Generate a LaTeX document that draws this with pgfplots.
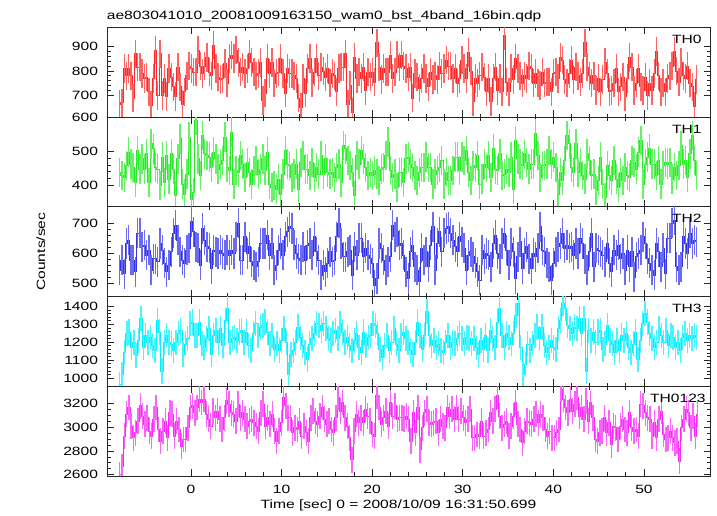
\documentclass[border=0pt]{standalone}
\usepackage{pgfplots}
\usepackage{pgfplotstable}
\pgfplotsset{compat=1.18}
\usepackage{fontspec}
\setmainfont{Liberation Sans}[FakeStretch=1.3]

\definecolor{cR}{RGB}{255,40,40}
\definecolor{cG}{RGB}{40,235,40}
\definecolor{cB}{RGB}{50,50,235}
\definecolor{cC}{RGB}{0,240,255}
\definecolor{cM}{RGB}{250,40,250}

\pgfplotstableread[row sep=\\]{y\\
665\\670\\810\\780\\810\\780\\690\\870\\815\\815\\
790\\770\\775\\715\\660\\770\\885\\700\\870\\700\\
770\\695\\810\\775\\735\\695\\815\\735\\665\\715\\
780\\820\\810\\795\\795\\885\\820\\790\\820\\855\\
795\\780\\905\\810\\775\\765\\770\\830\\750\\850\\
865\\850\\885\\835\\795\\815\\790\\810\\870\\835\\
795\\780\\790\\835\\680\\710\\850\\790\\835\\750\\
790\\795\\850\\790\\710\\810\\790\\790\\780\\770\\
690\\650\\770\\710\\810\\850\\750\\795\\850\\780\\
815\\800\\775\\810\\750\\790\\780\\715\\810\\815\\
815\\870\\665\\740\\630\\855\\770\\795\\770\\815\\
720\\795\\775\\795\\755\\915\\815\\765\\810\\795\\
795\\865\\770\\795\\865\\815\\865\\820\\810\\775\\
815\\690\\790\\
775\\730\\770\\810\\770\\735\\795\\765\\780\\765\\
820\\790\\810\\845\\820\\820\\770\\810\\750\\770\\
845\\810\\770\\875\\800\\675\\770\\750\\780\\815\\
775\\715\\770\\675\\770\\815\\720\\770\\715\\945\\
755\\715\\810\\765\\850\\810\\780\\750\\780\\770\\
820\\810\\750\\790\\750\\740\\795\\750\\755\\755\\
715\\790\\795\\770\\855\\845\\765\\750\\790\\845\\
765\\815\\780\\755\\790\\915\\815\\780\\750\\780\\
720\\770\\715\\765\\835\\790\\715\\720\\750\\810\\
715\\735\\775\\695\\770\\855\\815\\720\\750\\810\\
735\\720\\775\\700\\750\\720\\790\\880\\780\\715\\
750\\715\\770\\780\\820\\880\\800\\755\\835\\780\\
770\\820\\750\\735\\655\\765\\
}\tzero

\pgfplotstableread[row sep=\\]{y\\
438\\428\\423\\458\\498\\463\\453\\408\\503\\448\\
478\\448\\493\\408\\523\\508\\453\\448\\398\\483\\
408\\488\\418\\493\\448\\368\\478\\538\\403\\373\\
433\\543\\358\\378\\593\\478\\428\\548\\493\\488\\
483\\453\\498\\478\\448\\463\\473\\543\\453\\443\\
558\\403\\443\\438\\488\\463\\423\\468\\438\\403\\
443\\473\\433\\448\\478\\443\\498\\403\\393\\398\\
388\\418\\373\\433\\503\\463\\458\\423\\433\\463\\
388\\468\\488\\448\\448\\428\\468\\423\\453\\433\\
488\\433\\478\\438\\433\\438\\423\\453\\463\\408\\
518\\508\\473\\458\\438\\368\\488\\463\\503\\478\\
453\\428\\438\\428\\443\\433\\413\\448\\453\\488\\
528\\443\\423\\433\\393\\438\\438\\408\\478\\483\\
463\\453\\428\\
413\\438\\453\\453\\483\\453\\453\\403\\433\\443\\
453\\473\\403\\438\\413\\413\\443\\483\\483\\443\\
483\\473\\503\\438\\413\\458\\453\\488\\403\\418\\
463\\453\\488\\423\\508\\448\\443\\493\\428\\433\\
448\\438\\483\\388\\533\\478\\463\\458\\493\\468\\
448\\463\\463\\553\\488\\423\\458\\458\\463\\503\\
463\\483\\453\\373\\438\\413\\473\\548\\523\\453\\
438\\523\\438\\468\\428\\418\\493\\473\\428\\433\\
383\\413\\483\\403\\363\\458\\428\\413\\473\\418\\
393\\438\\413\\453\\428\\423\\473\\468\\448\\498\\
533\\403\\463\\483\\508\\463\\463\\428\\473\\403\\
458\\468\\463\\468\\418\\453\\428\\458\\518\\463\\
473\\423\\493\\548\\473\\428\\
}\tone

\pgfplotstableread[row sep=\\]{y\\
544\\578\\533\\633\\644\\578\\578\\539\\667\\667\\
622\\628\\594\\611\\544\\583\\583\\572\\633\\611\\
567\\539\\561\\606\\667\\694\\644\\606\\578\\567\\
611\\617\\706\\672\\622\\617\\561\\683\\644\\622\\
617\\550\\611\\606\\600\\611\\600\\594\\611\\594\\
611\\600\\656\\700\\578\\578\\656\\600\\622\\572\\
561\\556\\572\\633\\633\\633\\661\\594\\633\\544\\
561\\611\\633\\594\\656\\672\\689\\683\\628\\600\\
583\\578\\622\\578\\628\\633\\594\\656\\606\\578\\
528\\561\\539\\567\\606\\572\\578\\656\\700\\633\\
589\\589\\606\\611\\528\\622\\594\\650\\650\\589\\
617\\594\\583\\567\\494\\517\\633\\617\\578\\544\\
572\\589\\694\\656\\672\\628\\633\\594\\539\\517\\
606\\628\\556\\
544\\506\\617\\578\\606\\556\\628\\689\\544\\633\\
672\\606\\667\\683\\689\\667\\644\\622\\606\\656\\
639\\617\\544\\594\\606\\589\\567\\539\\511\\611\\
583\\600\\594\\556\\633\\661\\600\\583\\633\\667\\
611\\561\\633\\606\\517\\589\\639\\550\\600\\622\\
583\\550\\600\\589\\617\\689\\611\\606\\567\\556\\
511\\567\\606\\622\\633\\667\\617\\628\\617\\622\\
594\\633\\600\\650\\633\\583\\544\\606\\667\\556\\
617\\611\\606\\594\\572\\633\\567\\539\\611\\594\\
628\\583\\600\\544\\611\\556\\606\\522\\589\\600\\
611\\656\\633\\583\\567\\544\\528\\633\\606\\556\\
617\\533\\650\\650\\700\\711\\556\\544\\556\\656\\
633\\600\\667\\633\\644\\639\\
}\ttwo

\pgfplotstableread[row sep=\\]{y\\
964\\1021\\1143\\1247\\1257\\1172\\1200\\1125\\1209\\1332\\
1172\\1238\\1200\\1228\\1181\\1153\\1323\\1257\\1040\\1200\\
1238\\1200\\1191\\1153\\1200\\1247\\1266\\1134\\1191\\1219\\
1304\\1313\\1238\\1238\\1313\\1191\\1172\\1219\\1275\\1134\\
1238\\1266\\1200\\1275\\1181\\1323\\1389\\1200\\1219\\1228\\
1209\\1257\\1266\\1200\\1257\\1181\\1153\\1247\\1304\\1238\\
1285\\1294\\1313\\1257\\1191\\1238\\1162\\1191\\1153\\1209\\
1275\\1200\\1021\\1134\\1153\\1200\\1285\\1228\\1181\\1143\\
1106\\1191\\1219\\1247\\1304\\1294\\1266\\1304\\1275\\1219\\
1209\\1247\\1266\\1219\\1304\\1257\\1200\\1228\\1181\\1153\\
1209\\1247\\1172\\1143\\1257\\1181\\1228\\1238\\1304\\1294\\
1247\\1162\\1115\\1181\\1238\\1153\\1200\\1275\\1191\\1153\\
1238\\1257\\1219\\1200\\1153\\1134\\1200\\1313\\1238\\1162\\
1238\\1370\\1238\\1181\\1209\\1172\\1191\\1153\\1143\\1200\\
1238\\1172\\1200\\1191\\1219\\1247\\1219\\1191\\1228\\1219\\
1191\\1219\\1172\\1134\\1209\\1162\\1238\\1153\\1266\\1219\\
1172\\1313\\1389\\1238\\1172\\1247\\1228\\1191\\1247\\1351\\
1417\\1172\\1021\\1077\\1191\\1153\\1191\\1238\\1285\\1219\\
1285\\1181\\1143\\1172\\1209\\1172\\1162\\1275\\1323\\1417\\
1389\\1294\\1275\\1247\\1285\\1275\\1332\\1247\\1332\\1040\\
1266\\1209\\1257\\1200\\1257\\1266\\1162\\1191\\1294\\1209\\
1191\\1143\\1209\\1153\\1238\\1209\\1247\\1172\\1143\\1191\\
1257\\1106\\1209\\1304\\1360\\1313\\1247\\1219\\1172\\1200\\
1275\\1238\\1200\\1266\\1181\\1238\\1228\\1172\\1200\\1153\\
1228\\1247\\1209\\1238\\1219\\1238\\1228\\
}\tthree

\pgfplotstableread[row sep=\\]{y\\
2600\\2670\\2924\\3107\\3164\\3008\\2910\\2952\\3051\\3178\\
3093\\3023\\3079\\2966\\2924\\3065\\3164\\2980\\2882\\2966\\
3051\\2910\\3121\\3107\\2924\\3051\\2980\\2839\\2896\\2896\\
2994\\3164\\3178\\3121\\3164\\3234\\3206\\3234\\3107\\3065\\
3008\\3135\\3079\\3135\\3065\\2980\\3079\\3220\\3192\\3121\\
3107\\3051\\3192\\3079\\3121\\3065\\3008\\3051\\3065\\3037\\
3008\\2966\\3121\\3192\\3008\\3079\\3023\\3107\\2966\\2882\\
2966\\3037\\3248\\3178\\3079\\3079\\2952\\2994\\2980\\3051\\
2924\\3008\\2952\\2882\\3079\\3135\\3051\\3023\\3093\\3164\\
3065\\3023\\3051\\2980\\2952\\3079\\3248\\3135\\3206\\3079\\
3008\\2910\\2727\\2966\\3107\\3037\\
3079\\3037\\3149\\3093\\3051\\2938\\2924\\3262\\3164\\3023\\
3079\\3135\\3008\\3206\\3093\\3178\\3065\\3079\\3079\\3065\\
3093\\3065\\2882\\3121\\2952\\3164\\2811\\2994\\3121\\3149\\
3037\\3023\\3037\\3051\\2952\\3065\\3008\\2994\\3164\\3093\\
3149\\3065\\3164\\3065\\3135\\3079\\3037\\3065\\3149\\2910\\
2910\\2938\\2924\\3051\\2924\\2952\\2980\\3121\\3051\\3149\\
3262\\3093\\2994\\3023\\3051\\2924\\3008\\3093\\3206\\3023\\
2980\\2868\\2966\\3051\\3037\\3023\\3065\\3107\\3037\\3107\\
3079\\2980\\2924\\2966\\2910\\2910\\2952\\2980\\3318\\3234\\
3164\\3121\\3234\\3135\\3192\\3248\\3093\\3164\\3065\\3220\\
3051\\3206\\3079\\2896\\2882\\2952\\2966\\3079\\2952\\3037\\
2853\\3008\\2994\\2896\\3008\\3065\\2980\\2952\\3121\\2994\\
2966\\2980\\2924\\3192\\3178\\3121\\3079\\3065\\2924\\3037\\
2910\\3065\\3135\\2938\\2896\\2910\\2966\\2910\\2868\\2882\\
2713\\2994\\3065\\3149\\3121\\2994\\3093\\2924\\3107\\
}\tsum

\pgfplotsset{
  panel/.style={
    width=603.7pt, height=89.74pt, scale only axis,
    anchor=south west,
    xmin=-9.26, xmax=57.37,
    xtick={0,10,...,50}, minor x tick num=4,
    minor y tick num=4,
    tick align=inside,
    major tick length=7pt, minor tick length=3.5pt,
    axis line style={line width=0.9pt, black!85},
    tick style={black!85, line width=0.8pt},
    xticklabels={},
    scaled ticks=false,
    /pgf/number format/assume math mode=true,
    /pgf/number format/1000 sep={},
    ticklabel style={font=\fontsize{12}{14}\selectfont},
    yticklabel style={xshift=-5.5pt},
    clip=true,
  },
}
\tikzset{panellabel/.style={anchor=base east, font=\fontsize{12}{14}\selectfont}}

\begin{document}
\begin{tikzpicture}
\useasboundingbox (0pt,0pt) rectangle (717pt,516pt);

% TH0
\begin{axis}[panel, at={(107pt,398.96pt)}, ymin=612, ymax=978, ytick={700,800,900},
  extra y ticks={612}, extra y tick labels={600}, extra y tick style={major tick length=0pt}]
\addplot[const plot mark mid, no markers, line width=0.8pt, draw=cR,
  error bars/.cd, y dir=both, y fixed=58, error mark=none,
  error bar style={line width=1.4pt, draw=cR!72!white}]
  table[x expr=\coordindex*0.2468-7.85, y=y] {\tzero};
\node[panellabel] at (rel axis cs:1,1) [xshift=-5.7pt, yshift=-16pt] {TH0};
\end{axis}

% TH1
\begin{axis}[panel, at={(107pt,309.22pt)}, ymin=335, ymax=603, ytick={400,500}]
\addplot[const plot mark mid, no markers, line width=0.8pt, draw=cG,
  error bars/.cd, y dir=both, y fixed=44, error mark=none,
  error bar style={line width=1.4pt, draw=cG!72!white}]
  table[x expr=\coordindex*0.2468-7.85, y=y] {\tone};
\node[panellabel] at (rel axis cs:1,1) [xshift=-5.7pt, yshift=-16pt] {TH1};
\end{axis}

% TH2
\begin{axis}[panel, at={(107pt,219.48pt)}, ymin=457, ymax=755, ytick={500,600,700}]
\addplot[const plot mark mid, no markers, line width=0.8pt, draw=cB,
  error bars/.cd, y dir=both, y fixed=50, error mark=none,
  error bar style={line width=1.4pt, draw=cB!72!white}]
  table[x expr=\coordindex*0.2468-7.85, y=y] {\ttwo};
\node[panellabel] at (rel axis cs:1,1) [xshift=-5.7pt, yshift=-16pt] {TH2};
\end{axis}

% TH3
\begin{axis}[panel, at={(107pt,129.74pt)}, ymin=955, ymax=1455, ytick={1000,1100,...,1400}]
\addplot[const plot mark mid, no markers, line width=0.8pt, draw=cC,
  error bars/.cd, y dir=both, y fixed=70, error mark=none,
  error bar style={line width=1.4pt, draw=cC!72!white}]
  table[x expr=\coordindex*0.2588-7.85, y=y] {\tthree};
\node[panellabel] at (rel axis cs:1,1) [xshift=-5.7pt, yshift=-16pt] {TH3};
\end{axis}

% TH0123
\begin{axis}[panel, at={(107pt,40pt)}, ymin=2590, ymax=3342, ytick={2600,2800,...,3200},
  minor y tick num=3,
  xticklabels={0,10,20,30,40,50},
  xticklabel style={yshift=-6pt}]
\addplot[const plot mark mid, no markers, line width=0.8pt, draw=cM,
  error bars/.cd, y dir=both, y fixed=108, error mark=none,
  error bar style={line width=1.4pt, draw=cM!72!white}]
  table[x expr=\coordindex*0.2511-7.85, y=y] {\tsum};
\node[panellabel] at (rel axis cs:1,1) [xshift=-1.5pt, yshift=-16pt] {TH0123};
\end{axis}

\node[anchor=base west, font=\fontsize{12}{14}\selectfont, inner sep=0pt] at (106.7pt,496.7pt) {ae803041010\_20081009163150\_wam0\_bst\_4band\_16bin.qdp};
\node[anchor=base, font=\fontsize{12}{14}\selectfont, inner sep=0pt] at (398.5pt,7.5pt) {Time [sec] 0 = 2008/10/09 16:31:50.699};
\node[rotate=90, anchor=base, font=\fontsize{12}{14}\selectfont, inner sep=0pt] at (45pt,264.4pt) {Counts/sec};
\end{tikzpicture}
\end{document}
